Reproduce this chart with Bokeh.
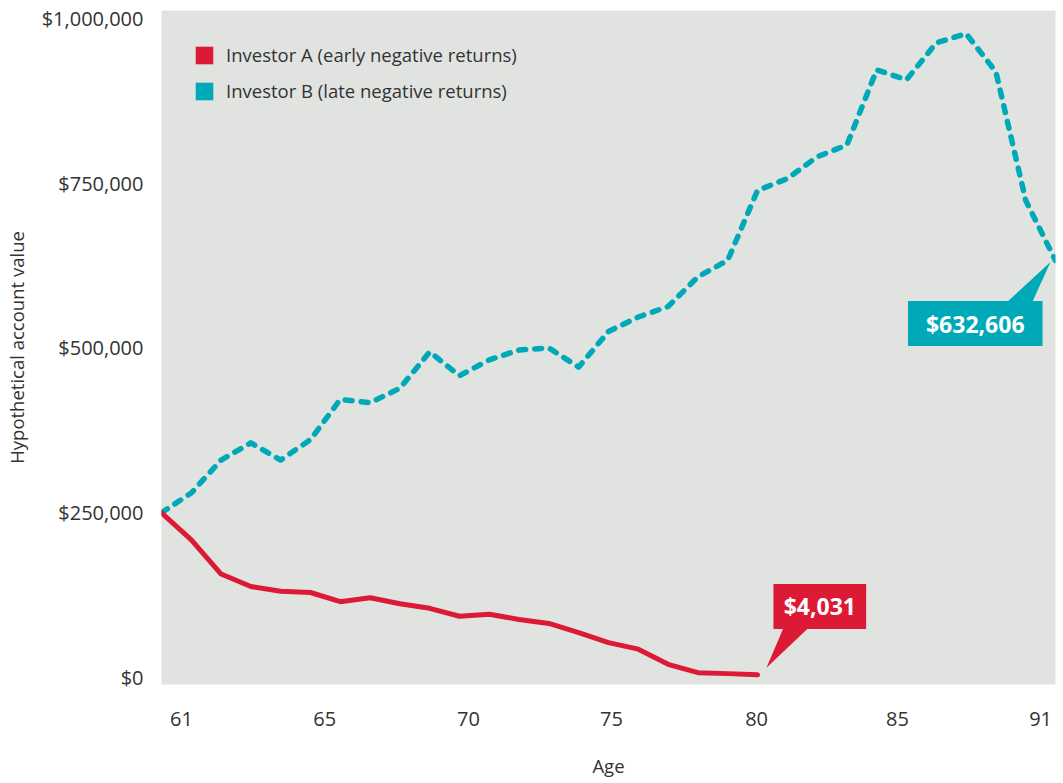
from bokeh.plotting import figure
from bokeh.models import (ColumnDataSource, FixedTicker, NumeralTickFormatter, Legend,
                          LegendItem, Label, Range1d)
from bokeh.embed import file_html
from bokeh.resources import INLINE

# ---------------- data ----------------
step = list(range(31))  # yearly points
investor_a = [250000, 209000, 157000, 138000, 131000, 129000, 115000, 121000, 112000, 105000,
              93000, 96000, 88000, 82000, 68000, 53000, 43000, 20000, 7400, 5900, 4031]
investor_b = [250000, 280000, 330000, 356000, 330000, 361000, 422000, 417000, 439000, 494000,
              458000, 482000, 497000, 500000, 471000, 525000, 547000, 563000, 608000, 633000,
              739000, 757000, 790000, 808000, 922000, 907000, 963000, 977000, 919000, 724000,
              632606]
series_names = ["Investor A (early negative returns)", "Investor B (late negative returns)"]
x_tick_labels = ["61", "65", "70", "75", "80", "85", "91"]
x_tick_pos = [0.67, 5.48, 10.3, 15.1, 19.97, 24.7, 29.5]
y_ticks = [0, 250000, 500000, 750000, 1000000]
end_labels = ["$4,031", "$632,606"]

RED = "#dc1a35"
TEAL = "#00a9b8"
BG = "#e1e3e0"
TXT = "#333333"
FONT = "Open Sans"

X0, X1 = 0, 30
Y0, Y1 = -10600, 1012100
FW, FH = 897, 675  # frame size px

p = figure(width=1058, height=780, output_backend="svg", toolbar_location=None,
           x_range=Range1d(X0, X1), y_range=Range1d(Y0, Y1),
           min_border_left=158, min_border_right=3, min_border_top=10, min_border_bottom=95)
p.background_fill_color = BG
p.border_fill_color = "white"
p.outline_line_color = None
p.grid.visible = False

src_a = ColumnDataSource(dict(x=step[:len(investor_a)], y=investor_a))
src_b = ColumnDataSource(dict(x=step[:len(investor_b)], y=investor_b))

p.line("x", "y", source=src_b, line_color=TEAL, line_width=5.5, line_dash="7 9",
       line_cap="round", line_join="round")
p.line("x", "y", source=src_a, line_color=RED, line_width=5, line_cap="round", line_join="round")

# legend swatches (NaN geometry: drawn only in the legend)
nan = float("nan")
sw_a = p.quad(left=[nan], right=[nan], top=[nan], bottom=[nan], fill_color=RED, line_color=None)
sw_b = p.quad(left=[nan], right=[nan], top=[nan], bottom=[nan], fill_color=TEAL, line_color=None)
legend = Legend(items=[LegendItem(label=series_names[0], renderers=[sw_a]),
                       LegendItem(label=series_names[1], renderers=[sw_b])],
                location="top_left", glyph_width=22, glyph_height=22, spacing=11,
                label_standoff=11, label_text_font=FONT, label_text_font_size="18.5px",
                label_text_color=TXT, background_fill_alpha=0, border_line_alpha=0,
                margin=22, padding=10, label_height=22)
p.add_layout(legend)

# axes
xa = p.xaxis[0]
xa.ticker = FixedTicker(ticks=x_tick_pos)
xa.major_label_overrides = {t: l for t, l in zip(x_tick_pos, x_tick_labels)}
xa.axis_label = "Age"
ya = p.yaxis[0]
ya.ticker = FixedTicker(ticks=y_ticks)
ya.formatter = NumeralTickFormatter(format="$0,0")
ya.axis_label = "Hypothetical account value"
for ax in (xa, ya):
    ax.axis_line_color = None
    ax.major_tick_line_color = None
    ax.minor_tick_line_color = None
    ax.major_label_text_font = FONT
    ax.major_label_text_font_size = "20px"
    ax.major_label_text_color = TXT
    ax.axis_label_text_font = FONT
    ax.axis_label_text_font_size = "18.5px"
    ax.axis_label_text_font_style = "normal"
    ax.axis_label_text_color = TXT
xa.major_label_standoff = 21
xa.axis_label_standoff = 24
ya.major_label_standoff = 12
ya.axis_label_standoff = 10

# callouts (offsets in screen px from the series end point)
dxp = (X1 - X0) / FW
dyp = (Y1 - Y0) / FH


def callout(ex, ey, color, text, box, tri):
    l, r, b, t = box
    p.quad(left=[ex + l * dxp], right=[ex + r * dxp], bottom=[ey + b * dyp], top=[ey + t * dyp],
           fill_color=color, line_color=None)
    p.patch([ex + v[0] * dxp for v in tri], [ey + v[1] * dyp for v in tri],
            fill_color=color, line_color=None)
    p.add_layout(Label(x=ex + (l + r) / 2 * dxp, y=ey + (b + t) / 2 * dyp, text=text,
                       text_align="center", text_baseline="middle", text_color="white",
                       text_font=FONT, text_font_size="23px", text_font_style="bold"))


callout(len(investor_a) - 1, investor_a[-1], RED, end_labels[0],
        (16, 109, 46, 91), [(26, 47), (51, 47), (9, 7)])
callout(len(investor_b) - 1, investor_b[-1], TEAL, end_labels[1],
        (-148, -13, -85.5, -40.5), [(-48, -41), (-23, -41), (-5, -1.5)])

open("out.html", "w").write(file_html(p, INLINE))
